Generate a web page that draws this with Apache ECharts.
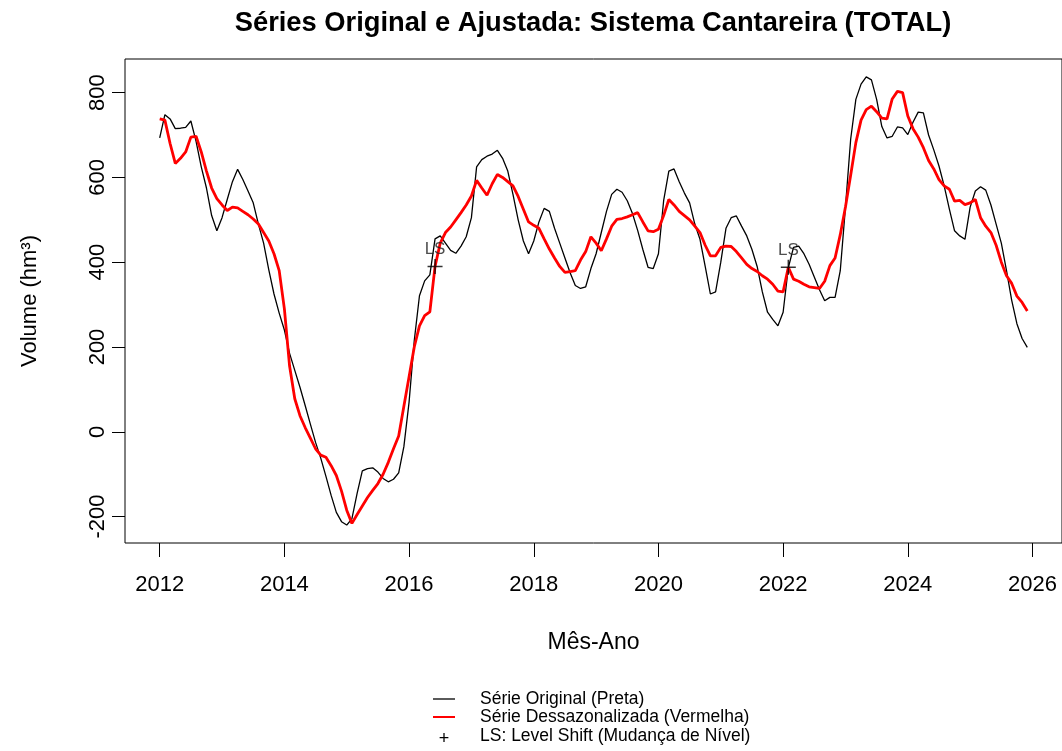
<!DOCTYPE html>
<html><head><meta charset="utf-8">
<script src="https://cdn.jsdelivr.net/npm/echarts@6/dist/echarts.min.js"></script>
<style>html,body{margin:0;padding:0;background:#fff}#c{width:1062px;height:751px}</style>
</head><body><div id="c"></div>
<script>
// Monthly data, Jan 2012 .. Dec 2025 (one row per year)
const startYear = 2012;
const original = [
  693, 748, 738, 715, 716, 718, 733, 685, 625, 575, 510, 474,
  505, 548, 590, 619, 595, 568, 540, 490, 445, 382, 325, 280,
  240, 185, 145, 105, 62, 18, -25, -62, -105, -150, -190, -212,
  -220, -205, -145, -92, -87, -85, -95, -110, -118, -112, -97, -35,
  70, 215, 321, 356, 370, 455, 462, 445, 428, 421, 438, 460,
  505, 625, 642, 650, 655, 664, 645, 615, 560, 500, 450, 420,
  450, 495, 527, 520, 480, 445, 410, 375, 345, 338, 342, 385,
  420, 470, 520, 560, 572, 565, 545, 515, 475, 430, 388, 385,
  420, 545, 615, 620, 590, 563, 540, 490, 454, 390, 325, 330,
  400, 480, 505, 509, 485, 462, 430, 390, 330, 282, 265, 250,
  282, 387, 435, 438, 420, 395, 365, 335, 309, 317, 317, 380,
  530, 690, 784, 820, 837, 830, 784, 720, 693, 697, 719, 717,
  701, 730, 754, 752, 700, 665, 627, 580, 525, 474, 462, 454,
  530, 568, 578, 570, 535, 490, 445, 380, 310, 255, 220, 199
];
const adjusted = [
  738, 735, 680, 633, 645, 660, 695, 697, 660, 615, 575, 550,
  535, 522, 530, 528, 520, 512, 502, 490, 470, 450, 420, 380,
  290, 155, 78, 38, 10, -15, -40, -55, -60, -80, -103, -140,
  -185, -216, -195, -175, -155, -138, -122, -100, -72, -40, -10, 60,
  130, 200, 250, 274, 283, 390, 445, 470, 483, 500, 517, 535,
  556, 593, 575, 558, 585, 607, 600, 590, 580, 555, 525, 495,
  487, 480, 455, 431, 410, 390, 376, 378, 380, 405, 425, 460,
  445, 427, 455, 485, 501, 503, 507, 512, 517, 495, 474, 472,
  478, 510, 548, 535, 520, 510, 500, 485, 470, 440, 415, 415,
  435, 438, 437, 425, 410, 395, 385, 378, 368, 360, 348, 332,
  330, 388, 360, 355, 348, 342, 340, 338, 355, 392, 410, 465,
  530, 605, 682, 735, 760, 768, 755, 740, 738, 785, 803, 800,
  745, 715, 695, 670, 640, 620, 595, 580, 572, 544, 546, 536,
  540, 548, 505, 485, 470, 440, 400, 368, 350, 320, 305, 285
];
const lsMonthIndex = [53, 121];   // Jun 2016, Feb 2022
const lsLabel = 'LS';
const xTicks = [2012, 2014, 2016, 2018, 2020, 2022, 2024, 2026];
const yTicks = [-200, 0, 200, 400, 600, 800];
const titleText = 'Séries Original e Ajustada: Sistema Cantareira (TOTAL)';
const xTitle = 'Mês-Ano';
const yTitle = 'Volume (hm³)';
const legendNames = ['Série Original (Preta)', 'Série Dessazonalizada (Vermelha)', 'LS: Level Shift (Mudança de Nível)'];

const FF = 'Liberation Sans, Arial, sans-serif';
const t = i => startYear + i / 12;
const origData = original.map((v, i) => [t(i), v]);
const adjData = adjusted.map((v, i) => [t(i), v]);
const lsData = lsMonthIndex.map(i => [t(i), adjusted[i]]);

// R-style 4% padding of ranges
const xr = [t(0), t(original.length - 1)];
const allY = original.concat(adjusted);
const yr = [Math.min(...allY), Math.max(...allY)];
const xPad = (xr[1] - xr[0]) * 0.04, yPad = (yr[1] - yr[0]) * 0.04;

const chart = echarts.init(document.getElementById('c'));
chart.setOption({
  animation: false,
  backgroundColor: '#fff',
  grid: { left: 125, top: 59, width: 940, height: 484, show: true, borderColor: '#000', borderWidth: 1, backgroundColor: 'transparent' },
  xAxis: {
    type: 'value', min: xr[0] - xPad, max: xr[1] + xPad,
    axisLine: { show: false, onZero: false }, splitLine: { show: false },
    axisTick: { show: true, customValues: xTicks, length: 14, lineStyle: { color: '#000', width: 1 } },
    axisLabel: { customValues: xTicks, formatter: v => String(v), color: '#000', fontSize: 22, fontFamily: FF, margin: 31 },
    name: xTitle, nameLocation: 'middle', nameGap: 88,
    nameTextStyle: { color: '#000', fontSize: 23, fontFamily: FF }
  },
  yAxis: {
    type: 'value', min: yr[0] - yPad, max: yr[1] + yPad,
    axisLine: { show: false, onZero: false }, splitLine: { show: false },
    axisTick: { show: true, customValues: yTicks, length: 13, lineStyle: { color: '#000', width: 1 } },
    axisLabel: { customValues: yTicks, formatter: v => String(v), color: '#000', fontSize: 22, fontFamily: FF, rotate: 90, margin: 16 },
    name: yTitle, nameLocation: 'middle', nameGap: 84, nameRotate: 90,
    nameTextStyle: { color: '#000', fontSize: 22, fontFamily: FF }
  },
  series: [
    { name: legendNames[0], type: 'line', data: origData, symbol: 'none', lineStyle: { color: '#000', width: 1.3 }, z: 2 },
    { name: legendNames[1], type: 'line', data: adjData, symbol: 'none', lineStyle: { color: '#ff0000', width: 2.8 }, z: 3 },
    { name: legendNames[2], type: 'scatter', data: lsData, z: 4,
      symbol: 'path://M0,4.5L10,4.5L10,5.5L0,5.5Z M4.5,0L5.5,0L5.5,10L4.5,10Z', symbolSize: 15,
      itemStyle: { color: '#000' },
      label: { show: true, position: 'top', distance: 1, formatter: lsLabel, color: '#222', fontSize: 17, fontFamily: FF } }
  ],
  graphic: [
    { type: 'text', x: 593, y: 23, style: { text: titleText, fill: '#000', font: 'bold 27.3px ' + FF, textAlign: 'center', textVerticalAlign: 'middle' } },
    { type: 'line', shape: { x1: 433, y1: 699, x2: 455, y2: 699 }, style: { stroke: '#000', lineWidth: 1.3 } },
    { type: 'line', shape: { x1: 433, y1: 717, x2: 455, y2: 717 }, style: { stroke: '#ff0000', lineWidth: 2 } },
    { type: 'text', x: 444, y: 739, style: { text: '+', fill: '#000', font: '18px ' + FF, textAlign: 'center', textVerticalAlign: 'middle' } },
    { type: 'text', x: 480, y: 699, style: { text: legendNames[0], fill: '#000', font: '17.5px ' + FF, textVerticalAlign: 'middle' } },
    { type: 'text', x: 480, y: 717, style: { text: legendNames[1], fill: '#000', font: '17.5px ' + FF, textVerticalAlign: 'middle' } },
    { type: 'text', x: 480, y: 736, style: { text: legendNames[2], fill: '#000', font: '17.5px ' + FF, textVerticalAlign: 'middle' } }
  ]
});
</script>
</body></html>
